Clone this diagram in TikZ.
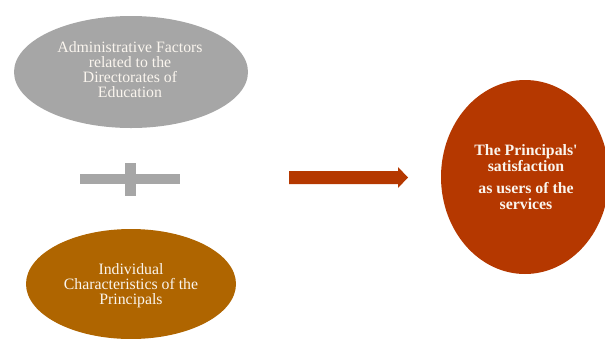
\documentclass[tikz,border=0pt]{standalone}
\usepackage{fontspec}
\setmainfont{Liberation Serif}[Ligatures=TeXOff]
\usetikzlibrary{shapes.geometric,calc}
\definecolor{greyfill}{RGB}{166,166,166}
\definecolor{rustfill}{RGB}{181,56,0}
\definecolor{ochrefill}{RGB}{175,101,0}
\definecolor{txtcol}{RGB}{250,245,238}
\tikzset{
  oval/.style={ellipse, inner sep=0pt, draw=none},
  ovaltext/.style={align=center, text=txtcol, inner sep=0pt, font=\fontsize{15.8}{15}\selectfont},
}
\begin{document}
\begin{tikzpicture}[x=1pt,y=-1pt]
\useasboundingbox (0,0) rectangle (605,338);
\clip (0,0) rectangle (605,338);
% ellipses
\node[oval, fill=greyfill, minimum width=234, minimum height=112] (top) at (131,72) {};
\node[ovaltext] (toptext) at (130,70) {Administrative Factors\\related to the\\Directorates of\\Education};
\node[oval, fill=ochrefill, minimum width=210, minimum height=110] (bottom) at (131,284) {};
\node[ovaltext] (bottomtext) at (131,286) {Individual\\Characteristics of the\\Principals};
\node[oval, fill=rustfill, minimum width=168, minimum height=194] (right) at (525,177) {};
\node[ovaltext, font=\fontsize{15.8}{16.5}\selectfont\bfseries] (righttext) at (526,177) {The Principals'\\satisfaction\\[5pt]as users of the\\services};
% plus sign
\fill[greyfill] (80,174) rectangle (180,184);
\fill[greyfill] (125,163) rectangle (136,196);
% block arrow
\coordinate (arrS) at (289,177.5);
\coordinate (arrE) at (408,177.5);
\fill[rustfill] ($(arrS)+(0,-6.5)$) -- (398,171) -- (398,167) -- (arrE) -- (398,188) -- (398,184) -- ($(arrS)+(0,6.5)$) -- cycle;
\end{tikzpicture}
\end{document}
